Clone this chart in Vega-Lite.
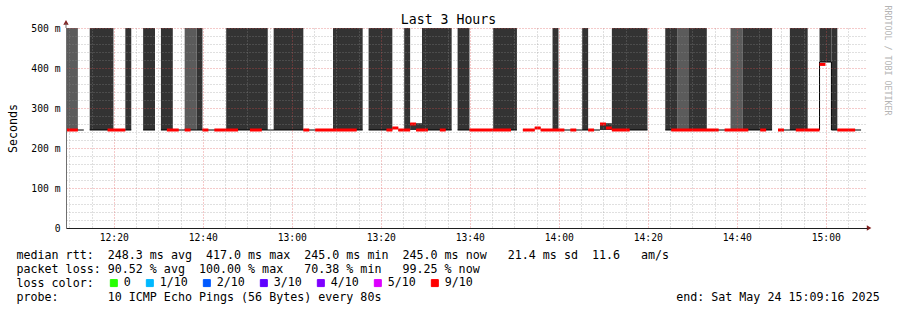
{
  "$schema": "https://vega.github.io/schema/vega-lite/v6.json",
  "width": 801,
  "height": 200,
  "autosize": "none",
  "padding": {"left": 66, "top": 28, "right": 30, "bottom": 82},
  "background": "#ffffff",
  "config": {"view": {"stroke": null}, "font": "DejaVu Sans Mono"},
  "datasets": {
    "smoke": [
      {"s": "2025-05-24T12:09:16Z", "e": "2025-05-24T12:11:56Z", "lo": 245, "hi": 500, "shade": "light"},
      {"s": "2025-05-24T12:14:36Z", "e": "2025-05-24T12:19:56Z", "lo": 245, "hi": 500, "shade": "dark"},
      {"s": "2025-05-24T12:22:36Z", "e": "2025-05-24T12:23:56Z", "lo": 245, "hi": 500, "shade": "dark"},
      {"s": "2025-05-24T12:26:36Z", "e": "2025-05-24T12:29:16Z", "lo": 245, "hi": 500, "shade": "dark"},
      {"s": "2025-05-24T12:30:36Z", "e": "2025-05-24T12:33:16Z", "lo": 245, "hi": 500, "shade": "dark"},
      {"s": "2025-05-24T12:35:56Z", "e": "2025-05-24T12:38:36Z", "lo": 245, "hi": 500, "shade": "light"},
      {"s": "2025-05-24T12:38:36Z", "e": "2025-05-24T12:39:56Z", "lo": 245, "hi": 500, "shade": "dark"},
      {"s": "2025-05-24T12:45:16Z", "e": "2025-05-24T12:54:36Z", "lo": 245, "hi": 500, "shade": "dark"},
      {"s": "2025-05-24T12:55:56Z", "e": "2025-05-24T13:02:36Z", "lo": 245, "hi": 500, "shade": "dark"},
      {"s": "2025-05-24T13:09:16Z", "e": "2025-05-24T13:15:56Z", "lo": 245, "hi": 500, "shade": "dark"},
      {"s": "2025-05-24T13:17:16Z", "e": "2025-05-24T13:22:36Z", "lo": 245, "hi": 500, "shade": "dark"},
      {"s": "2025-05-24T13:25:16Z", "e": "2025-05-24T13:26:36Z", "lo": 245, "hi": 500, "shade": "dark"},
      {"s": "2025-05-24T13:26:36Z", "e": "2025-05-24T13:29:16Z", "lo": 245, "hi": 262, "shade": "dark"},
      {"s": "2025-05-24T13:29:16Z", "e": "2025-05-24T13:35:56Z", "lo": 245, "hi": 500, "shade": "dark"},
      {"s": "2025-05-24T13:37:16Z", "e": "2025-05-24T13:39:56Z", "lo": 245, "hi": 500, "shade": "dark"},
      {"s": "2025-05-24T13:45:16Z", "e": "2025-05-24T13:50:36Z", "lo": 245, "hi": 500, "shade": "dark"},
      {"s": "2025-05-24T13:58:36Z", "e": "2025-05-24T13:59:56Z", "lo": 245, "hi": 500, "shade": "dark"},
      {"s": "2025-05-24T14:05:16Z", "e": "2025-05-24T14:06:36Z", "lo": 245, "hi": 500, "shade": "dark"},
      {"s": "2025-05-24T14:09:16Z", "e": "2025-05-24T14:11:56Z", "lo": 245, "hi": 262, "shade": "dark"},
      {"s": "2025-05-24T14:11:56Z", "e": "2025-05-24T14:19:56Z", "lo": 245, "hi": 500, "shade": "dark"},
      {"s": "2025-05-24T14:23:56Z", "e": "2025-05-24T14:26:36Z", "lo": 245, "hi": 500, "shade": "dark"},
      {"s": "2025-05-24T14:26:36Z", "e": "2025-05-24T14:29:16Z", "lo": 245, "hi": 500, "shade": "light"},
      {"s": "2025-05-24T14:29:16Z", "e": "2025-05-24T14:33:16Z", "lo": 245, "hi": 500, "shade": "dark"},
      {"s": "2025-05-24T14:38:36Z", "e": "2025-05-24T14:41:16Z", "lo": 245, "hi": 500, "shade": "light"},
      {"s": "2025-05-24T14:41:16Z", "e": "2025-05-24T14:47:56Z", "lo": 245, "hi": 500, "shade": "dark"},
      {"s": "2025-05-24T14:51:56Z", "e": "2025-05-24T14:55:56Z", "lo": 245, "hi": 500, "shade": "dark"},
      {"s": "2025-05-24T14:58:36Z", "e": "2025-05-24T15:01:16Z", "lo": 415, "hi": 500, "shade": "dark"},
      {"s": "2025-05-24T15:01:16Z", "e": "2025-05-24T15:02:36Z", "lo": 245, "hi": 500, "shade": "dark"}
    ],
    "median": [
      {"s": "2025-05-24T12:09:16Z", "e": "2025-05-24T12:13:16Z", "a": 245, "b": 245},
      {"s": "2025-05-24T12:14:36Z", "e": "2025-05-24T12:23:56Z", "a": 245, "b": 245},
      {"s": "2025-05-24T12:26:36Z", "e": "2025-05-24T12:29:16Z", "a": 245, "b": 245},
      {"s": "2025-05-24T12:30:36Z", "e": "2025-05-24T13:15:56Z", "a": 245, "b": 245},
      {"s": "2025-05-24T13:17:16Z", "e": "2025-05-24T13:22:36Z", "a": 245, "b": 245},
      {"s": "2025-05-24T13:22:36Z", "e": "2025-05-24T13:23:56Z", "a": 250, "b": 250},
      {"s": "2025-05-24T13:23:56Z", "e": "2025-05-24T13:26:36Z", "a": 245, "b": 245},
      {"s": "2025-05-24T13:26:36Z", "e": "2025-05-24T13:27:56Z", "a": 260, "b": 260},
      {"s": "2025-05-24T13:27:56Z", "e": "2025-05-24T13:35:56Z", "a": 245, "b": 245},
      {"s": "2025-05-24T13:37:16Z", "e": "2025-05-24T13:50:36Z", "a": 245, "b": 245},
      {"s": "2025-05-24T13:51:56Z", "e": "2025-05-24T13:54:36Z", "a": 245, "b": 245},
      {"s": "2025-05-24T13:54:36Z", "e": "2025-05-24T13:55:56Z", "a": 250, "b": 250},
      {"s": "2025-05-24T13:55:56Z", "e": "2025-05-24T14:09:16Z", "a": 245, "b": 245},
      {"s": "2025-05-24T14:09:16Z", "e": "2025-05-24T14:10:36Z", "a": 260, "b": 260},
      {"s": "2025-05-24T14:10:36Z", "e": "2025-05-24T14:11:56Z", "a": 250, "b": 250},
      {"s": "2025-05-24T14:11:56Z", "e": "2025-05-24T14:19:56Z", "a": 245, "b": 245},
      {"s": "2025-05-24T14:23:56Z", "e": "2025-05-24T14:47:56Z", "a": 245, "b": 245},
      {"s": "2025-05-24T14:49:16Z", "e": "2025-05-24T14:58:36Z", "a": 245, "b": 245},
      {"s": "2025-05-24T14:58:36Z", "e": "2025-05-24T14:58:36Z", "a": 245, "b": 415},
      {"s": "2025-05-24T14:58:36Z", "e": "2025-05-24T15:01:16Z", "a": 415, "b": 415},
      {"s": "2025-05-24T15:01:16Z", "e": "2025-05-24T15:01:16Z", "a": 415, "b": 245},
      {"s": "2025-05-24T15:01:16Z", "e": "2025-05-24T15:07:56Z", "a": 245, "b": 245}
    ],
    "loss": [
      {"s": "2025-05-24T12:09:16Z", "e": "2025-05-24T12:11:56Z", "ms": 245, "loss": "9/10"},
      {"s": "2025-05-24T12:18:36Z", "e": "2025-05-24T12:22:36Z", "ms": 245, "loss": "9/10"},
      {"s": "2025-05-24T12:31:56Z", "e": "2025-05-24T12:34:36Z", "ms": 245, "loss": "9/10"},
      {"s": "2025-05-24T12:35:56Z", "e": "2025-05-24T12:37:16Z", "ms": 245, "loss": "9/10"},
      {"s": "2025-05-24T12:39:56Z", "e": "2025-05-24T12:41:16Z", "ms": 245, "loss": "9/10"},
      {"s": "2025-05-24T12:42:36Z", "e": "2025-05-24T12:47:56Z", "ms": 245, "loss": "9/10"},
      {"s": "2025-05-24T12:50:36Z", "e": "2025-05-24T12:53:16Z", "ms": 245, "loss": "9/10"},
      {"s": "2025-05-24T13:02:36Z", "e": "2025-05-24T13:03:56Z", "ms": 245, "loss": "9/10"},
      {"s": "2025-05-24T13:05:16Z", "e": "2025-05-24T13:14:36Z", "ms": 245, "loss": "9/10"},
      {"s": "2025-05-24T13:21:16Z", "e": "2025-05-24T13:22:36Z", "ms": 245, "loss": "9/10"},
      {"s": "2025-05-24T13:22:36Z", "e": "2025-05-24T13:23:56Z", "ms": 250, "loss": "9/10"},
      {"s": "2025-05-24T13:23:56Z", "e": "2025-05-24T13:26:36Z", "ms": 245, "loss": "9/10"},
      {"s": "2025-05-24T13:26:36Z", "e": "2025-05-24T13:27:56Z", "ms": 260, "loss": "9/10"},
      {"s": "2025-05-24T13:27:56Z", "e": "2025-05-24T13:30:36Z", "ms": 245, "loss": "9/10"},
      {"s": "2025-05-24T13:33:16Z", "e": "2025-05-24T13:34:36Z", "ms": 245, "loss": "9/10"},
      {"s": "2025-05-24T13:39:56Z", "e": "2025-05-24T13:49:16Z", "ms": 245, "loss": "9/10"},
      {"s": "2025-05-24T13:51:56Z", "e": "2025-05-24T13:54:36Z", "ms": 245, "loss": "9/10"},
      {"s": "2025-05-24T13:54:36Z", "e": "2025-05-24T13:55:56Z", "ms": 250, "loss": "9/10"},
      {"s": "2025-05-24T13:55:56Z", "e": "2025-05-24T14:01:16Z", "ms": 245, "loss": "9/10"},
      {"s": "2025-05-24T14:02:36Z", "e": "2025-05-24T14:03:56Z", "ms": 245, "loss": "9/10"},
      {"s": "2025-05-24T14:06:36Z", "e": "2025-05-24T14:07:56Z", "ms": 245, "loss": "9/10"},
      {"s": "2025-05-24T14:09:16Z", "e": "2025-05-24T14:10:36Z", "ms": 260, "loss": "9/10"},
      {"s": "2025-05-24T14:10:36Z", "e": "2025-05-24T14:11:56Z", "ms": 250, "loss": "9/10"},
      {"s": "2025-05-24T14:11:56Z", "e": "2025-05-24T14:15:56Z", "ms": 245, "loss": "9/10"},
      {"s": "2025-05-24T14:25:16Z", "e": "2025-05-24T14:35:56Z", "ms": 245, "loss": "9/10"},
      {"s": "2025-05-24T14:37:16Z", "e": "2025-05-24T14:42:36Z", "ms": 245, "loss": "9/10"},
      {"s": "2025-05-24T14:45:16Z", "e": "2025-05-24T14:46:36Z", "ms": 245, "loss": "9/10"},
      {"s": "2025-05-24T14:49:16Z", "e": "2025-05-24T14:50:36Z", "ms": 245, "loss": "9/10"},
      {"s": "2025-05-24T14:53:16Z", "e": "2025-05-24T14:58:36Z", "ms": 245, "loss": "9/10"},
      {"s": "2025-05-24T14:58:36Z", "e": "2025-05-24T14:59:56Z", "ms": 409, "loss": "9/10"},
      {"s": "2025-05-24T15:02:36Z", "e": "2025-05-24T15:06:36Z", "ms": 245, "loss": "9/10"}
    ]
  },
  "layer": [
    {
      "data": {"name": "smoke"},
      "mark": {"type": "rect"},
      "encoding": {
        "x": {
          "field": "s", "type": "temporal",
          "scale": {"type": "utc", "nice": false, "domain": [
            {"year": 2025, "month": 5, "date": 24, "hours": 12, "minutes": 9, "seconds": 16, "utc": true},
            {"year": 2025, "month": 5, "date": 24, "hours": 15, "minutes": 9, "seconds": 16, "utc": true}]},
          "axis": {
            "orient": "bottom",
            "values": [
              {"year": 2025, "month": 5, "date": 24, "hours": 12, "minutes": 20, "utc": true},
              {"year": 2025, "month": 5, "date": 24, "hours": 12, "minutes": 40, "utc": true},
              {"year": 2025, "month": 5, "date": 24, "hours": 13, "minutes": 0, "utc": true},
              {"year": 2025, "month": 5, "date": 24, "hours": 13, "minutes": 20, "utc": true},
              {"year": 2025, "month": 5, "date": 24, "hours": 13, "minutes": 40, "utc": true},
              {"year": 2025, "month": 5, "date": 24, "hours": 14, "minutes": 0, "utc": true},
              {"year": 2025, "month": 5, "date": 24, "hours": 14, "minutes": 20, "utc": true},
              {"year": 2025, "month": 5, "date": 24, "hours": 14, "minutes": 40, "utc": true},
              {"year": 2025, "month": 5, "date": 24, "hours": 15, "minutes": 0, "utc": true}],
            "labelExpr": "utcFormat(datum.value, '%H:%M')",
            "labelFont": "DejaVu Sans Mono", "labelFontSize": 9.7, "labelColor": "#000000",
            "labelPadding": 4, "labelOverlap": false, "labelFlush": false,
            "ticks": false,
            "domain": true, "domainColor": "#1f1f1f", "domainWidth": 1,
            "grid": true, "gridColor": "#de4f4f", "gridOpacity": 0.6, "gridDash": [1, 2], "gridWidth": 1,
            "zindex": 1,
            "title": [
              "median rtt:\u00a0\u00a0248.3 ms avg\u00a0\u00a0417.0 ms max\u00a0\u00a0245.0 ms min\u00a0\u00a0245.0 ms now\u00a0\u00a0\u00a021.4 ms sd\u00a0\u00a011.6\u00a0\u00a0\u00a0am/s",
              "packet loss: 90.52 % avg\u00a0\u00a0100.00 % max\u00a0\u00a0\u00a070.38 % min\u00a0\u00a0\u00a099.25 % now",
              "loss color:",
              "probe:\u00a0\u00a0\u00a0\u00a0\u00a0\u00a0\u00a010 ICMP Echo Pings (56 Bytes) every 80s\u00a0\u00a0\u00a0\u00a0\u00a0\u00a0\u00a0\u00a0\u00a0\u00a0\u00a0\u00a0\u00a0\u00a0\u00a0\u00a0\u00a0\u00a0\u00a0\u00a0\u00a0\u00a0\u00a0\u00a0\u00a0\u00a0\u00a0\u00a0\u00a0\u00a0\u00a0\u00a0\u00a0\u00a0\u00a0\u00a0\u00a0\u00a0\u00a0\u00a0\u00a0\u00a0end: Sat May 24 15:09:16 2025"
            ],
            "titleFont": "DejaVu Sans Mono", "titleFontSize": 11.66, "titleFontWeight": "normal", "titleColor": "#000000",
            "titleAlign": "left", "titleBaseline": "top", "titleX": -50, "titleY": 21, "titleLineHeight": 14
          }
        },
        "x2": {"field": "e"},
        "y": {
          "field": "lo", "type": "quantitative",
          "scale": {"domain": [0, 500], "nice": false},
          "axis": {
            "orient": "left",
            "values": [0, 100, 200, 300, 400, 500],
            "labelExpr": "datum.value == 0 ? '0' : datum.value + ' m'",
            "labelFont": "DejaVu Sans Mono", "labelFontSize": 9.7, "labelColor": "#000000",
            "labelPadding": 6, "labelOverlap": false, "labelFlush": false,
            "ticks": false,
            "domain": true, "domainColor": "#707070", "domainWidth": 1,
            "grid": true, "gridColor": "#de4f4f", "gridOpacity": 0.6, "gridDash": [1, 2], "gridWidth": 1,
            "zindex": 1,
            "title": "Seconds",
            "titleFont": "DejaVu Sans Mono", "titleFontSize": 11.66, "titleFontWeight": "normal", "titleColor": "#000000",
            "titleAngle": -90, "titleAlign": "center", "titleBaseline": "alphabetic", "titleX": -50, "titleY": 100
          }
        },
        "y2": {"field": "hi"},
        "fill": {
          "field": "shade", "type": "nominal",
          "scale": {"domain": ["dark", "light"], "range": ["#333333", "#5b5b5b"]},
          "legend": null
        }
      }
    },
    {
      "data": {"name": "median"},
      "mark": {"type": "rule", "color": "#000000", "strokeWidth": 1},
      "encoding": {
        "x": {
          "field": "s", "type": "temporal",
          "axis": {
            "orient": "bottom",
            "values": [
              {"year": 2025, "month": 5, "date": 24, "hours": 12, "minutes": 10, "utc": true},
              {"year": 2025, "month": 5, "date": 24, "hours": 12, "minutes": 15, "utc": true},
              {"year": 2025, "month": 5, "date": 24, "hours": 12, "minutes": 25, "utc": true},
              {"year": 2025, "month": 5, "date": 24, "hours": 12, "minutes": 30, "utc": true},
              {"year": 2025, "month": 5, "date": 24, "hours": 12, "minutes": 35, "utc": true},
              {"year": 2025, "month": 5, "date": 24, "hours": 12, "minutes": 45, "utc": true},
              {"year": 2025, "month": 5, "date": 24, "hours": 12, "minutes": 50, "utc": true},
              {"year": 2025, "month": 5, "date": 24, "hours": 12, "minutes": 55, "utc": true},
              {"year": 2025, "month": 5, "date": 24, "hours": 13, "minutes": 5, "utc": true},
              {"year": 2025, "month": 5, "date": 24, "hours": 13, "minutes": 10, "utc": true},
              {"year": 2025, "month": 5, "date": 24, "hours": 13, "minutes": 15, "utc": true},
              {"year": 2025, "month": 5, "date": 24, "hours": 13, "minutes": 25, "utc": true},
              {"year": 2025, "month": 5, "date": 24, "hours": 13, "minutes": 30, "utc": true},
              {"year": 2025, "month": 5, "date": 24, "hours": 13, "minutes": 35, "utc": true},
              {"year": 2025, "month": 5, "date": 24, "hours": 13, "minutes": 45, "utc": true},
              {"year": 2025, "month": 5, "date": 24, "hours": 13, "minutes": 50, "utc": true},
              {"year": 2025, "month": 5, "date": 24, "hours": 13, "minutes": 55, "utc": true},
              {"year": 2025, "month": 5, "date": 24, "hours": 14, "minutes": 5, "utc": true},
              {"year": 2025, "month": 5, "date": 24, "hours": 14, "minutes": 10, "utc": true},
              {"year": 2025, "month": 5, "date": 24, "hours": 14, "minutes": 15, "utc": true},
              {"year": 2025, "month": 5, "date": 24, "hours": 14, "minutes": 25, "utc": true},
              {"year": 2025, "month": 5, "date": 24, "hours": 14, "minutes": 30, "utc": true},
              {"year": 2025, "month": 5, "date": 24, "hours": 14, "minutes": 35, "utc": true},
              {"year": 2025, "month": 5, "date": 24, "hours": 14, "minutes": 45, "utc": true},
              {"year": 2025, "month": 5, "date": 24, "hours": 14, "minutes": 50, "utc": true},
              {"year": 2025, "month": 5, "date": 24, "hours": 14, "minutes": 55, "utc": true},
              {"year": 2025, "month": 5, "date": 24, "hours": 15, "minutes": 5, "utc": true}],
            "labels": false, "ticks": false, "domain": false, "title": null,
            "grid": true, "gridColor": "#8f8f8f", "gridOpacity": 0.55, "gridDash": [1, 2], "gridWidth": 1,
            "zindex": 1
          }
        },
        "x2": {"field": "e"},
        "y": {
          "field": "a", "type": "quantitative",
          "axis": {
            "orient": "left",
            "values": [20, 40, 60, 80, 120, 140, 160, 180, 220, 240, 260, 280, 320, 340, 360, 380, 420, 440, 460, 480],
            "labels": false, "ticks": false, "domain": false, "title": null,
            "grid": true, "gridColor": "#8f8f8f", "gridOpacity": 0.55, "gridDash": [1, 2], "gridWidth": 1,
            "zindex": 1
          }
        },
        "y2": {"field": "b"}
      }
    },
    {
      "data": {"name": "loss"},
      "mark": {"type": "rule", "strokeWidth": 3},
      "encoding": {
        "x": {"field": "s", "type": "temporal", "axis": null},
        "x2": {"field": "e"},
        "y": {
          "field": "ms", "type": "quantitative",
          "axis": {
            "orient": "right", "labels": false, "ticks": false, "domain": false, "grid": false,
            "title": "RRDTOOL / TOBI OETIKER",
            "titleFont": "DejaVu Sans Mono", "titleFontSize": 8.3, "titleFontWeight": "normal", "titleColor": "#b4b4b4",
            "titleAngle": 90, "titleAlign": "left", "titleBaseline": "middle", "titleX": 19, "titleY": -23
          }
        },
        "color": {
          "field": "loss", "type": "nominal",
          "scale": {
            "domain": ["0", "1/10", "2/10", "3/10", "4/10", "5/10", "9/10"],
            "range": ["#26ff00", "#00b8ff", "#0059ff", "#5e00ff", "#7e00ff", "#dd00ff", "#ff0000"]
          },
          "legend": {
            "title": null, "orient": "none", "legendX": 42, "legendY": 249,
            "direction": "horizontal",
            "symbolType": "square", "symbolSize": 49, "symbolStrokeColor": "#000000", "symbolStrokeWidth": 1,
            "labelFont": "DejaVu Sans Mono", "labelFontSize": 11.66, "labelColor": "#000000", "labelOffset": 4,
            "columnPadding": 13,
            "encode": {"symbols": {"update": {"fill": {"scale": "color", "field": "value"}, "stroke": {"value": "#000000"}, "strokeWidth": {"value": 1}, "opacity": {"value": 1}}}}
          }
        }
      }
    },
    {
      "data": {"values": [{}]},
      "mark": {"type": "point", "shape": "triangle-up", "filled": true, "size": 28, "color": "#801f1f", "opacity": 1},
      "encoding": {
        "x": {
          "datum": {"year": 2025, "month": 5, "date": 24, "hours": 12, "minutes": 9, "seconds": 16, "utc": true},
          "type": "temporal",
          "axis": {
            "orient": "top", "labels": false, "ticks": false, "domain": false, "grid": false,
            "title": "Last 3 Hours",
            "titleFont": "DejaVu Sans Mono", "titleFontSize": 13.2, "titleFontWeight": "normal", "titleColor": "#000000",
            "titleAlign": "center", "titleBaseline": "alphabetic", "titleX": 382, "titleY": -5
          }
        },
        "y": {"datum": 514, "type": "quantitative", "axis": null}
      }
    },
    {
      "data": {"values": [{}]},
      "mark": {"type": "point", "shape": "triangle-right", "filled": true, "size": 28, "color": "#801f1f", "opacity": 1},
      "encoding": {
        "x": {"datum": {"year": 2025, "month": 5, "date": 24, "hours": 15, "minutes": 9, "seconds": 44, "utc": true}, "type": "temporal", "axis": null},
        "y": {"datum": 0, "type": "quantitative", "axis": null}
      }
    },
    {
      "data": {"values": [{}]},
      "mark": {"type": "rule", "color": "#707070", "strokeWidth": 1},
      "encoding": {
        "x": {"datum": {"year": 2025, "month": 5, "date": 24, "hours": 12, "minutes": 9, "seconds": 16, "utc": true}, "type": "temporal", "axis": null},
        "y": {"datum": 500, "type": "quantitative", "axis": null},
        "y2": {"datum": 512}
      }
    }
  ],
  "resolve": {"axis": {"x": "independent", "y": "independent"}}
}
